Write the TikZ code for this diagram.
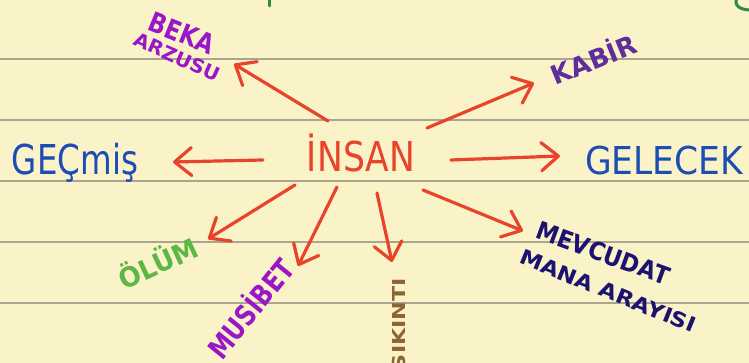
\documentclass[tikz,border=0pt]{standalone}
\usepackage{fontspec}
\setmainfont{DejaVu Sans}
\usepackage{graphicx}
\usetikzlibrary{arrows.meta}
\definecolor{paper}{HTML}{FBF3C8}
\definecolor{ruleC}{HTML}{ABA48F}
\definecolor{redC}{HTML}{E8432B}
\definecolor{purpC}{HTML}{9A16C6}
\definecolor{kabirC}{HTML}{5E2E9C}
\definecolor{blueC}{HTML}{1D4DB4}
\definecolor{greenC}{HTML}{5DB744}
\definecolor{brownC}{HTML}{8E6436}
\definecolor{navyC}{HTML}{1B1272}
\definecolor{dgreenC}{HTML}{2F8A45}
\newcommand{\hwtext}[3]{\resizebox{#1}{#2}{\raisebox{0pt}[\fontcharht\font`X][0pt]{#3}}}
\tikzset{
  ruleline/.style={draw=ruleC, line width=1.3pt},
  redarrow/.style={draw=redC, line width=3.2pt, line cap=round, line join=round,
    -{Straight Barb[length=17pt,width=28pt,round]}},
  word/.style={inner sep=0pt, outer sep=0pt, anchor=center, font=\fontsize{20}{24}\selectfont},
  smallword/.style={word, font=\fontsize{20}{24}\selectfont\bfseries},
}
\begin{document}
\begin{tikzpicture}[x=1pt,y=-1pt]
\fill[paper] (0,0) rectangle (749,363);
\useasboundingbox (0,0) rectangle (749,363);
% ruled lines
\foreach \yy in {59,120,181,242,303} {
  \draw[ruleline] (0,\yy) -- (749,\yy);
}
% cut-off green fragments
\draw[dgreenC, line width=3pt, line cap=round] (269,-2) -- (269,6);
\draw[dgreenC, line width=3pt, line cap=round] (737,-2) .. controls (733,6) and (741,10) .. (751,10);
% words
\node[word, text=redC] (insan) at (361,157) {\hwtext{108pt}{30pt}{İNSAN}};
\node[word, text=blueC] (gecmis) at (75,160) {\hwtext{126pt}{30pt}{GEÇmiş}};
\node[word, text=blueC] (gelecek) at (664,161) {\hwtext{158pt}{28pt}{GELECEK}};
\node[smallword, text=purpC, rotate=-22] (beka) at (182,33) {\hwtext{68pt}{20pt}{BEKA}};
\node[smallword, text=purpC, rotate=-24] (arzusu) at (177,57) {\hwtext{92pt}{14pt}{ARZUSU}};
\node[smallword, text=kabirC, rotate=22] (kabir) at (594,60) {\hwtext{90pt}{19pt}{KABİR}};
\node[smallword, text=greenC, rotate=25] (olum) at (158,264) {\hwtext{84pt}{20pt}{ÖLÜM}};
\node[smallword, text=purpC, rotate=51] (musibet) at (251,309) {\hwtext{118pt}{21pt}{MUSİBET}};
\node[smallword, text=brownC, rotate=90] (sikinti) at (399,324) {\hwtext{92pt}{13pt}{SIKINTI}};
\node[smallword, text=navyC, rotate=-20] (mevcudat) at (603,253) {\hwtext{140pt}{18pt}{MEVCUDAT}};
\node[smallword, text=navyC, rotate=-22] (mana) at (608,291) {\hwtext{188pt}{15pt}{MANA ARAYISI}};
% arrow end points
\coordinate (t1) at (328,121); \coordinate (h1) at (234,64);
\coordinate (t2) at (427,128); \coordinate (h2) at (534,83);
\coordinate (t3) at (263,160); \coordinate (h3) at (173,162);
\coordinate (t4) at (451,160); \coordinate (h4) at (560,156);
\coordinate (t5) at (295,185); \coordinate (h5) at (208,239);
\coordinate (t6) at (337,187); \coordinate (h6) at (298,266);
\coordinate (t7) at (377,193); \coordinate (h7) at (392,262);
\coordinate (t8) at (423,190); \coordinate (h8) at (523,231);
\foreach \i in {1,...,8} {
  \draw[redarrow] (t\i) -- (h\i);
}
\end{tikzpicture}
\end{document}
